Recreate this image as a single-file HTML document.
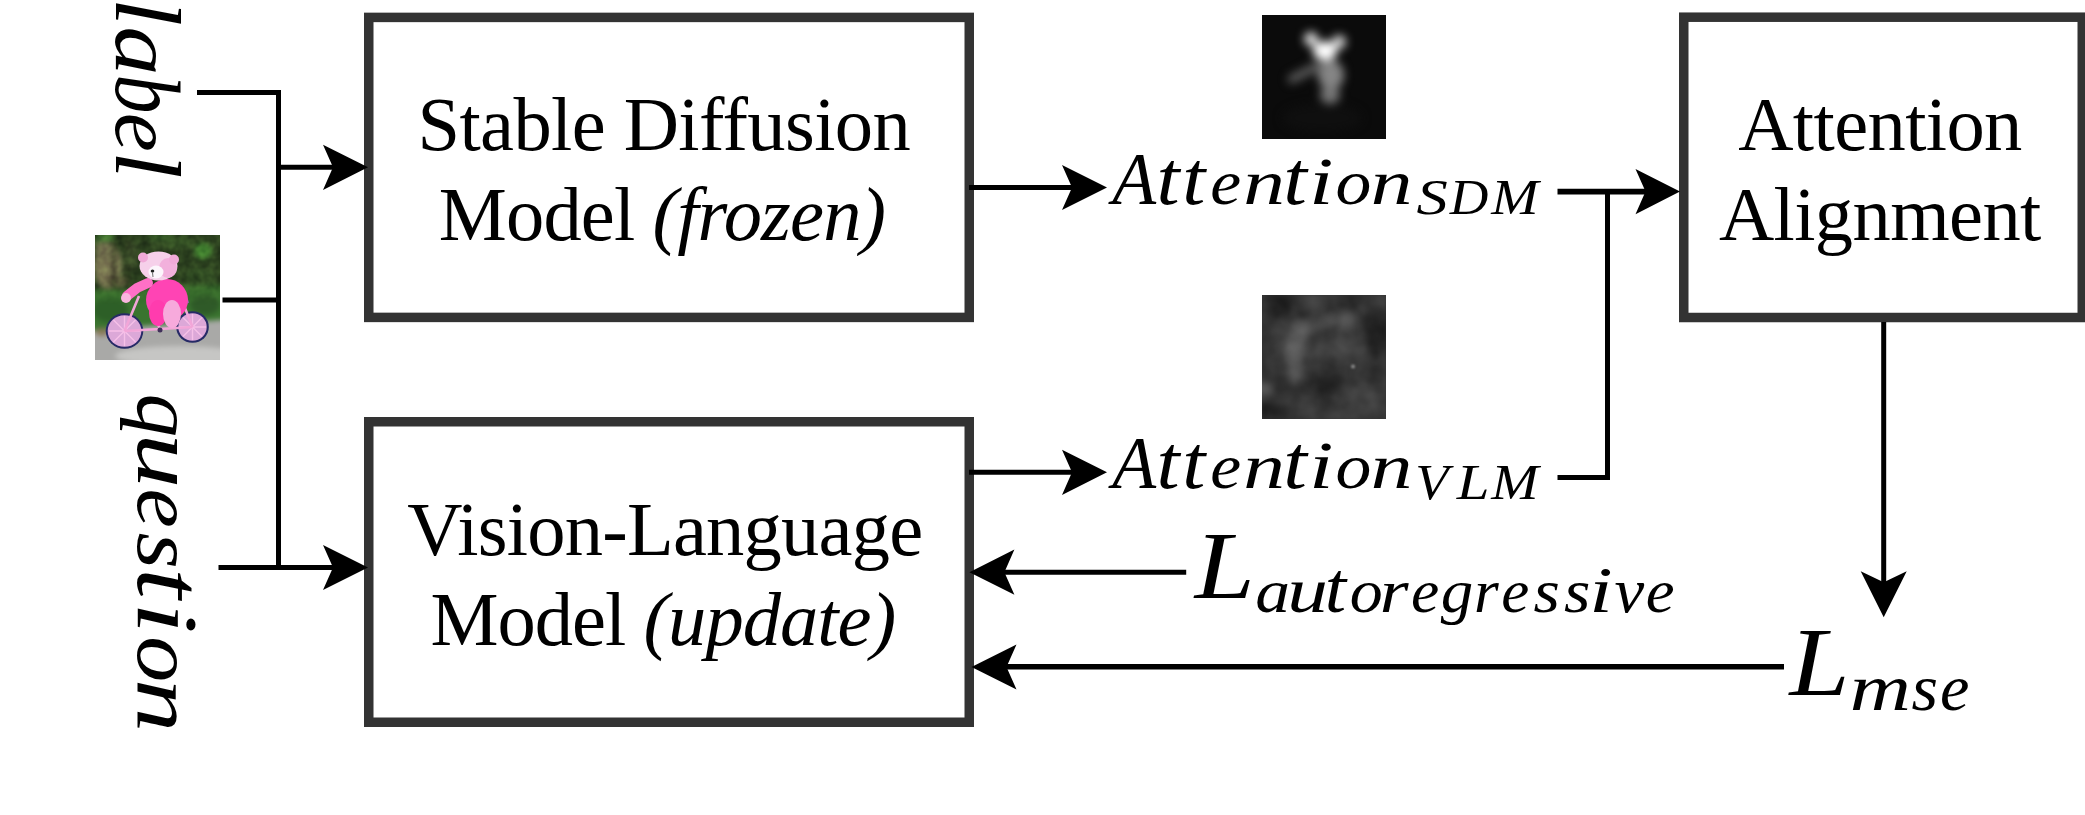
<!DOCTYPE html>
<html><head><meta charset="utf-8">
<style>
html,body{margin:0;padding:0;background:#fff;width:2085px;height:815px;overflow:hidden}
svg{display:block}
text{font-family:"Liberation Serif",serif;fill:#000}
.m{font-style:italic}
</style></head><body>
<svg width="2085" height="815" viewBox="0 0 2085 815">
<defs>
<filter color-interpolation-filters="sRGB" id="b1" x="-50%" y="-50%" width="200%" height="200%"><feGaussianBlur stdDeviation="5"/></filter>
<filter color-interpolation-filters="sRGB" id="b2" x="-50%" y="-50%" width="200%" height="200%"><feGaussianBlur stdDeviation="4"/></filter>
<filter color-interpolation-filters="sRGB" id="b5" x="-10%" y="-10%" width="120%" height="120%"><feGaussianBlur stdDeviation="4.5"/></filter>
<filter color-interpolation-filters="sRGB" id="turb" x="0" y="0" width="100%" height="100%"><feTurbulence type="fractalNoise" baseFrequency="0.03" numOctaves="4" seed="3"/><feColorMatrix type="matrix" values="0.75 0 0 0 -0.17  0.75 0 0 0 -0.17  0.75 0 0 0 -0.17  0 0 0 0 1"/><feGaussianBlur stdDeviation="1.5"/></filter>
<filter color-interpolation-filters="sRGB" id="b6" x="-200%" y="-200%" width="500%" height="500%"><feGaussianBlur stdDeviation="1"/></filter>
<clipPath id="c1"><rect x="1262" y="15" width="124" height="124"/></clipPath>
<clipPath id="c2"><rect x="1262" y="295" width="124" height="124"/></clipPath>
<filter color-interpolation-filters="sRGB" id="b3" x="-20%" y="-20%" width="140%" height="140%"><feGaussianBlur stdDeviation="2.5"/></filter>
<filter color-interpolation-filters="sRGB" id="b4" x="-20%" y="-20%" width="140%" height="140%"><feGaussianBlur stdDeviation="0.6"/></filter>
<filter color-interpolation-filters="sRGB" id="leaf" x="0" y="0" width="100%" height="100%"><feTurbulence type="fractalNoise" baseFrequency="0.12" numOctaves="2" seed="5"/><feColorMatrix type="matrix" values="0.5 0 0 0 -0.05  0.7 0 0 0 -0.05  0.3 0 0 0 -0.03  0 0 0 0 1"/></filter>
<linearGradient id="lg" x1="0" y1="0" x2="0" y2="1"><stop offset="0" stop-color="#fff"/><stop offset="0.7" stop-color="#fff"/><stop offset="1" stop-color="#000"/></linearGradient><mask id="lm"><rect x="95" y="235" width="125" height="70" fill="url(#lg)"/></mask>
<clipPath id="c3"><rect x="95" y="235" width="125" height="125"/></clipPath>
</defs>
<!-- boxes -->
<g fill="none" stroke="#333" stroke-width="9.5">
<rect x="368.75" y="17.4" width="600.5" height="300"/>
<rect x="368.75" y="421.75" width="600.5" height="300.5"/>
<rect x="1683.75" y="17.2" width="398.5" height="300.3"/>
</g>
<!-- connectors -->
<g fill="none" stroke="#000" stroke-width="5" stroke-linejoin="miter">
<path d="M197,92.5H278.5V567.5"/>
<path d="M278.5,167.3H335"/>
<path d="M222.5,300H278.5"/>
<path d="M218.5,567.5H335"/>
<path d="M969,187.5H1074"/>
<path d="M969,472.3H1074"/>
<path d="M1557.5,191.6H1647" stroke-width="5.8"/>
<path d="M1557.5,477.4H1607.5V191.6"/>
<path d="M1883.7,322V584"/>
<path d="M1186.2,572.2H1002"/>
<path d="M1784,666.8H1004" stroke-width="5.5"/>
</g>
<g fill="#000">
<polygon points="368,167.3 323,144.7 333,167.3 323,189.9"/>
<polygon points="368,567.5 323,544.9 333,567.5 323,590.1"/>
<polygon points="1107,187.5 1062,164.9 1072,187.5 1062,210.1"/>
<polygon points="1107,472.3 1062,449.7 1072,472.3 1062,494.9"/>
<polygon points="1680,191.6 1635.5,169 1645.5,191.6 1635.5,214.2"/>
<polygon points="1883.7,617.3 1860.7,571.3 1883.7,582.3 1906.7,571.3"/>
<polygon points="969.4,572.2 1014.4,549.6 1004.4,572.2 1014.4,594.8"/>
<polygon points="971.5,667 1016.5,644.4 1006.5,667 1016.5,689.6"/>
</g>
<!-- box text -->
<g font-size="76.5" text-anchor="middle" letter-spacing="-0.6">
<text x="663.8" y="150.3">Stable Diffusion</text>
<text x="662" y="239.6" letter-spacing="-0.85">Model <tspan class="m">(frozen)</tspan></text>
<text x="664.9" y="555.1" letter-spacing="-0.75">Vision-Language</text>
<text x="662.8" y="644.5" letter-spacing="-0.95">Model <tspan class="m">(update)</tspan></text>
<text x="1880" y="149.5">Attention</text>
<text x="1879.8" y="239.7">Alignment</text>
</g>
<!-- math -->
<g class="m">
<text transform="translate(1112.15,203.70) scale(0.976,1)" font-size="73.64">A</text><text transform="translate(1156.44,203.70) scale(1.095,1)" font-size="75.84">t</text><text transform="translate(1182.24,203.70) scale(1.095,1)" font-size="75.84">t</text><text transform="translate(1210.35,203.70) scale(1.084,1)" font-size="64.12">e</text><text transform="translate(1243.37,203.70) scale(1.300,1)" font-size="64.12">n</text><text transform="translate(1283.36,203.70) scale(1.121,1)" font-size="75.84">t</text><text transform="translate(1309.10,203.70) scale(1.300,1)" font-size="67.82">i</text><text transform="translate(1335.45,203.70) scale(1.117,1)" font-size="64.12">o</text><text transform="translate(1370.77,203.70) scale(1.300,1)" font-size="64.12">n</text>
<text transform="translate(1416.55,213.70) scale(1.228,1)" font-size="50.91">S</text><text transform="translate(1449.69,213.70) scale(1.075,1)" font-size="49.77">D</text><text transform="translate(1491.28,213.70) scale(1.141,1)" font-size="49.77">M</text>
<text transform="translate(1112.15,488.40) scale(0.976,1)" font-size="73.64">A</text><text transform="translate(1156.44,488.40) scale(1.095,1)" font-size="75.84">t</text><text transform="translate(1182.24,488.40) scale(1.095,1)" font-size="75.84">t</text><text transform="translate(1210.35,488.40) scale(1.084,1)" font-size="64.12">e</text><text transform="translate(1243.37,488.40) scale(1.300,1)" font-size="64.12">n</text><text transform="translate(1283.36,488.40) scale(1.121,1)" font-size="75.84">t</text><text transform="translate(1309.10,488.40) scale(1.300,1)" font-size="67.82">i</text><text transform="translate(1335.45,488.40) scale(1.117,1)" font-size="64.12">o</text><text transform="translate(1370.77,488.40) scale(1.300,1)" font-size="64.12">n</text>
<text transform="translate(1415.17,498.70) scale(1.092,1)" font-size="49.92">V</text><text transform="translate(1456.71,498.70) scale(1.184,1)" font-size="49.77">L</text><text transform="translate(1491.28,498.70) scale(1.141,1)" font-size="49.77">M</text>
<text transform="translate(1194.79,597.80) scale(1.129,1)" font-size="95.57">L</text>
<text transform="translate(1255.31,611.70) scale(1.139,1)" font-size="61.15">a</text><text transform="translate(1287.13,611.70) scale(1.297,1)" font-size="62.75">u</text><text transform="translate(1324.72,611.70) scale(1.065,1)" font-size="72.11">t</text><text transform="translate(1349.82,611.70) scale(1.078,1)" font-size="61.15">o</text><text transform="translate(1379.76,611.70) scale(1.211,1)" font-size="61.15">r</text><text transform="translate(1411.03,611.70) scale(1.040,1)" font-size="61.15">e</text><text transform="translate(1440.84,611.70) scale(1.061,1)" font-size="61.15">g</text><text transform="translate(1474.10,611.70) scale(1.039,1)" font-size="61.15">r</text><text transform="translate(1501.24,611.70) scale(1.032,1)" font-size="61.15">e</text><text transform="translate(1533.49,611.70) scale(1.108,1)" font-size="61.15">s</text><text transform="translate(1563.99,611.70) scale(1.108,1)" font-size="61.15">s</text><text transform="translate(1589.20,611.70) scale(1.300,1)" font-size="64.80">i</text><text transform="translate(1614.46,611.70) scale(1.067,1)" font-size="62.75">v</text><text transform="translate(1645.69,611.70) scale(1.061,1)" font-size="61.15">e</text>
<text transform="translate(1789.60,694.50) scale(1.099,1)" font-size="98.32">L</text>
<text transform="translate(1849.75,709.90) scale(1.290,1)" font-size="65.61">m</text><text transform="translate(1911.48,709.90) scale(1.041,1)" font-size="65.61">s</text><text transform="translate(1939.95,709.90) scale(1.008,1)" font-size="65.61">e</text>
<g transform="translate(116.00,0) rotate(90)"><text transform="translate(-2.03,0.00) scale(1.090,1)" font-size="92.22">l</text><text transform="translate(26.35,0.00) scale(1.150,1)" font-size="85.56">a</text><text transform="translate(74.42,0.00) scale(0.844,1)" font-size="92.22">b</text><text transform="translate(112.68,0.00) scale(1.025,1)" font-size="85.56">e</text><text transform="translate(151.13,0.00) scale(1.058,1)" font-size="92.22">l</text></g>
<g transform="translate(137.50,0) rotate(90)"><text transform="translate(393.42,0.00) scale(1.063,1)" font-size="81.95">q</text><text transform="translate(433.58,0.00) scale(1.300,1)" font-size="84.10">u</text><text transform="translate(488.57,0.00) scale(1.076,1)" font-size="81.95">e</text><text transform="translate(532.38,0.00) scale(1.143,1)" font-size="81.95">s</text><text transform="translate(568.15,0.00) scale(1.149,1)" font-size="95.91">t</text><text transform="translate(602.30,0.00) scale(1.300,1)" font-size="87.61">i</text><text transform="translate(636.24,0.00) scale(1.123,1)" font-size="81.95">o</text><text transform="translate(679.09,0.00) scale(1.300,1)" font-size="81.95">n</text></g>
</g>
<!-- heatmaps -->
<g clip-path="url(#c1)">
<rect x="1262" y="15" width="124" height="124" fill="#0b0b0b"/>
<g filter="url(#b1)">
<ellipse cx="1322" cy="118" rx="40" ry="14" fill="#0f0f0f"/>
<path d="M1292,79L1318,66" stroke="#5a5a5a" stroke-width="9" stroke-linecap="round"/>
<ellipse cx="1331" cy="75" rx="13" ry="15" fill="#858585"/>
<ellipse cx="1330" cy="95" rx="10" ry="9" fill="#777"/>
<ellipse cx="1325" cy="51" rx="12" ry="10" fill="#fff"/>
<ellipse cx="1311" cy="39" rx="7" ry="7" fill="#e0e0e0"/>
<ellipse cx="1339" cy="42" rx="7" ry="7" fill="#d0d0d0"/>
</g>
</g>
<g clip-path="url(#c2)">
<g filter="url(#b5)">
<rect x="1250" y="285" width="150" height="150" fill="#353535"/>
<ellipse cx="1275" cy="305" rx="16" ry="12" fill="#252525"/>
<ellipse cx="1320" cy="305" rx="30" ry="8" fill="#383838"/>
<path d="M1300,330L1325,322L1348,318" stroke="#626262" stroke-width="13" stroke-linecap="round" fill="none"/>
<path d="M1297,335L1294,352L1296,378" stroke="#6a6a6a" stroke-width="14" stroke-linecap="round" fill="none"/>
<ellipse cx="1345" cy="318" rx="10" ry="9" fill="#727272"/>
<ellipse cx="1302" cy="330" rx="10" ry="10" fill="#707070"/>
<ellipse cx="1376" cy="330" rx="12" ry="30" fill="#1e1e1e"/>
<ellipse cx="1328" cy="375" rx="14" ry="20" fill="#2a2a2a"/>
<ellipse cx="1362" cy="400" rx="20" ry="15" fill="#444"/>
<ellipse cx="1275" cy="410" rx="15" ry="10" fill="#1f1f1f"/>
<ellipse cx="1268" cy="350" rx="8" ry="15" fill="#2a2a2a"/>
<ellipse cx="1264" cy="388" rx="5" ry="8" fill="#7a7a7a"/>
<ellipse cx="1310" cy="405" rx="15" ry="8" fill="#3a3a3a"/>
</g>
<rect x="1262" y="295" width="124" height="124" filter="url(#turb)" opacity="0.3"/>
<circle cx="1353" cy="366.5" r="2" fill="#8a8a8a" filter="url(#b6)"/>
</g>
<!-- teddy image -->
<g clip-path="url(#c3)">
<rect x="95" y="235" width="125" height="125" fill="#2a3d20"/>
<g filter="url(#b3)">
<rect x="85" y="225" width="145" height="70" fill="#2a3d20"/>
<ellipse cx="108" cy="266" rx="14" ry="23" fill="#968466"/>
<ellipse cx="118" cy="282" rx="12" ry="6" fill="#6e6448"/>
<ellipse cx="104" cy="250" rx="9" ry="10" fill="#8e8262"/><path d="M114,240V288M127,238V290" stroke="#2a2a1c" stroke-width="3"/><ellipse cx="105" cy="238" rx="10" ry="4" fill="#4a8a3a"/><ellipse cx="160" cy="237" rx="12" ry="3" fill="#3f7030"/>
<ellipse cx="132" cy="256" rx="6" ry="14" fill="#3c4a2c"/>
<ellipse cx="203" cy="251" rx="9" ry="8" fill="#4a9a38"/>
<ellipse cx="180" cy="242" rx="14" ry="6" fill="#3a5a2a"/>
<ellipse cx="200" cy="280" rx="16" ry="12" fill="#324f26"/>
<polygon points="85,290 230,284 230,322 85,332" fill="#3a742f"/>
<ellipse cx="110" cy="310" rx="18" ry="12" fill="#2d5f27"/>
<ellipse cx="205" cy="305" rx="15" ry="10" fill="#2f5a28"/>
<polygon points="85,331 230,319 230,370 85,370" fill="#a9a9a7"/>
<ellipse cx="180" cy="356" rx="65" ry="10" fill="#c6c6c4"/>
<ellipse cx="102" cy="332" rx="7" ry="4" fill="#8a7a5a"/>
</g>
<rect x="95" y="235" width="125" height="70" filter="url(#leaf)" mask="url(#lm)" opacity="0.3"/>
<g filter="url(#b4)">
<!-- wheels -->
<ellipse cx="124.5" cy="331" rx="18.8" ry="17.8" fill="#262a66"/>
<ellipse cx="124.5" cy="331" rx="16.8" ry="15.8" fill="#dca8d8"/>
<ellipse cx="192.5" cy="327" rx="16.3" ry="15.8" fill="#262a66"/>
<ellipse cx="192.5" cy="327" rx="14.2" ry="13.7" fill="#dca8d8"/>
<g stroke="#f6c0e8" stroke-width="1.4">
<path d="M124.5,316V346M109,331H140M113.5,320L135.5,342M113.5,342L135.5,320"/>
<path d="M192.5,314V340M179,327H206M183,317.5L202,336.5M183,336.5L202,317.5"/>
</g>
<!-- frame -->
<g stroke="#f2a6d8" stroke-width="2.6" fill="none">
<path d="M124.5,331L139,296M124.5,331L160,329L192.5,327M160,329L150,306L181,298L192.5,327"/>
</g>
<circle cx="160" cy="330" r="2.5" fill="#40305a"/>
<!-- bear -->
<rect x="183" y="296" width="5" height="8" fill="#8a6aa8" transform="rotate(-20 185 300)"/><ellipse cx="167" cy="300" rx="21" ry="21" fill="#ff44b4"/>
<ellipse cx="158" cy="313" rx="9" ry="13" fill="#ff3cae"/>
<ellipse cx="172" cy="314" rx="9" ry="14" fill="#f7aadc"/>
<path d="M148,283L137,288L127,296" stroke="#ff70c6" stroke-width="10" stroke-linecap="round" fill="none"/>
<circle cx="126" cy="298" r="5" fill="#f9b6de"/>
<ellipse cx="158.5" cy="266" rx="19" ry="14.5" fill="#f6d0ea"/><ellipse cx="168" cy="268" rx="9" ry="10" fill="#f2b0dc"/>
<circle cx="143" cy="257.5" r="5" fill="#f0aad8"/>
<circle cx="174" cy="259.5" r="5" fill="#f0aad8"/>
<ellipse cx="156" cy="272" rx="7.5" ry="6.5" fill="#fcf6fc"/>
<ellipse cx="152.5" cy="271" rx="1.8" ry="1.5" fill="#222"/>
<path d="M152.5,272.5L153,277" stroke="#444" stroke-width="0.8"/>
</g>
</g>
</svg>
</body></html>
